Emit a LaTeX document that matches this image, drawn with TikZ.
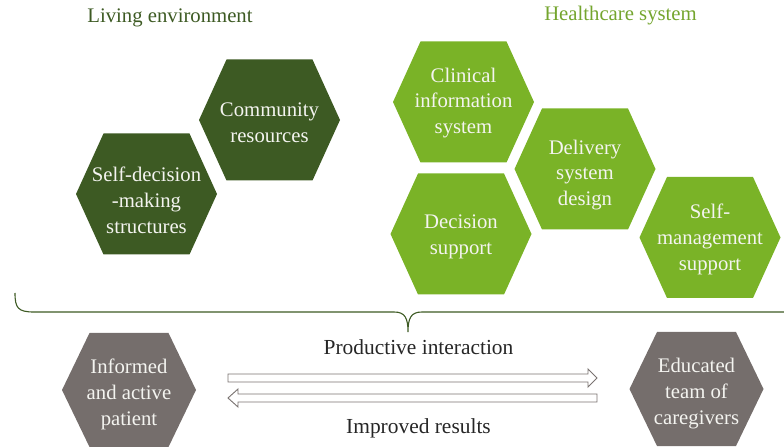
\documentclass[tikz,border=0pt]{standalone}
\usepackage{fontspec}
\setmainfont{Liberation Serif}
\usetikzlibrary{calc}

\definecolor{darkleaf}{HTML}{3D5A23}
\definecolor{leaf}{HTML}{7AB327}
\definecolor{stone}{HTML}{756E6C}
\definecolor{titleleaf}{HTML}{74A52E}
\definecolor{arrowline}{HTML}{7A7371}
\definecolor{hextext}{HTML}{F4F4F0}

\tikzset{
  hexlabel/.style={text=hextext, align=center, inner sep=0pt,
    font=\fontsize{20.8}{26}\selectfont},
  heading/.style={inner sep=0pt, font=\fontsize{20.8}{24}\selectfont},
  caption/.style={inner sep=0pt, text=black!85, font=\fontsize{21.5}{24}\selectfont},
  bracket/.style={draw=darkleaf, line width=1.1bp},
  blockarrow/.style={draw=arrowline, fill=white, line width=0.9bp, line join=miter},
}

% #1 name, #2 centre, #3 fill, #4 half width, #5 half top edge, #6 half height,
% #7 text drop, #8 text
\newcommand\hexcell[8]{%
  \fill[#3] ($(#2)+(-#4,0)$) -- ($(#2)+(-#5,-#6)$) -- ($(#2)+(#5,-#6)$)
    -- ($(#2)+(#4,0)$) -- ($(#2)+(#5,#6)$) -- ($(#2)+(-#5,#6)$) -- cycle;
  \node[hexlabel] (#1) at ($(#2)+(0,#7)$) {#8};}
\newcommand\greenhex[5]{\hexcell{#1}{#2}{#3}{70.5}{43}{60.5}{#4}{#5}}
\newcommand\stonehex[3]{\hexcell{#1}{#2}{stone}{67}{39.5}{57}{4.5}{#3}}

\begin{document}
\begin{tikzpicture}[x=1bp, y=-1bp]
  \useasboundingbox (0,0) rectangle (784,447);
  \clip (0,0) rectangle (784,447);

  % group headings
  \node[heading, text=darkleaf] (living) at (170,18) {Living environment};
  \node[heading, text=titleleaf] (health) at (620.5,16) {Healthcare system};

  % living environment
  \greenhex{community}{269.5,120}{darkleaf}{3}{Community\\resources}
  \greenhex{selfdec}{146.5,194}{darkleaf}{6}{Self-decision\\-making\\structures}

  % healthcare system
  \greenhex{clinical}{463.5,102}{leaf}{1}{Clinical\\information\\system}
  \greenhex{decision}{461,234}{leaf}{2.5}{Decision\\support}
  \greenhex{delivery}{585,169}{leaf}{6}{Delivery\\system\\design}
  \greenhex{selfman}{710,237.5}{leaf}{2}{Self-\\management\\support}

  % bracket joining both groups
  \coordinate (brL) at (15,293);
  \coordinate (brTip) at (408,332);
  \coordinate (brR) at (800,312);
  \draw[bracket] (brL) .. controls ++(0,15) and (18,312) .. (34,312)
    -- (394,312) .. controls (405,312) and (408,318) .. (brTip)
    .. controls (408,318) and (411,312) .. (422,312) -- (brR);

  % the two parties of the interaction
  \stonehex{patient}{129,390}{Informed\\and active\\patient}
  \stonehex{team}{696.5,389}{Educated\\team of\\caregivers}

  % interaction captions
  \node[caption] (productive) at (418.5,347) {Productive interaction};
  \node[caption] (improved) at (418.5,428) {Improved results};

  % outlined block arrows between the parties
  \coordinate (fwdTail) at (228,378);
  \coordinate (backTail) at (597,398);
  \draw[blockarrow] (fwdTail) ++(0,-4) -- ++(360,0) -- ++(0,-5) -- ++(9,9)
    -- ++(-9,9) -- ++(0,-5) -- ++(-360,0) -- cycle;
  \draw[blockarrow] (backTail) ++(0,-4) -- ++(-359,0) -- ++(0,-5) -- ++(-10,9)
    -- ++(10,9) -- ++(0,-5) -- ++(359,0) -- cycle;
\end{tikzpicture}
\end{document}
